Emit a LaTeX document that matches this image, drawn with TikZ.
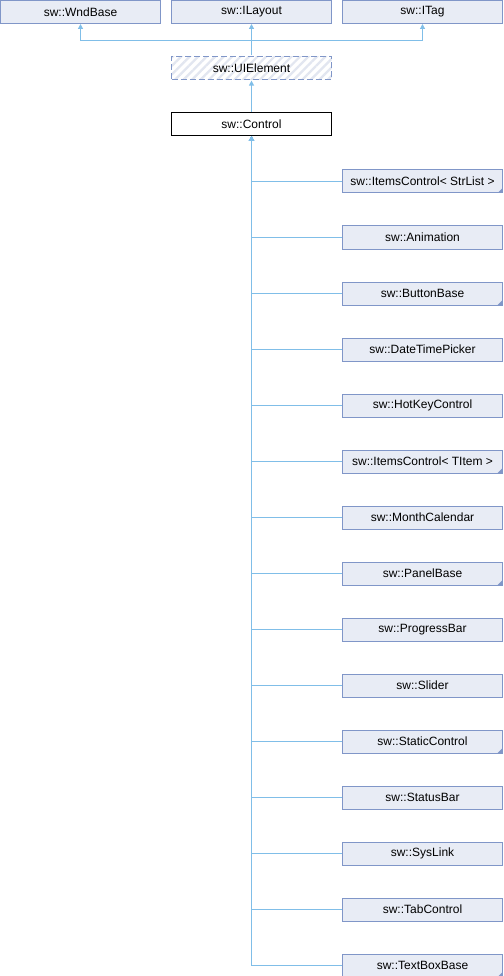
\documentclass[tikz,border=0pt]{standalone}
\usepackage{fontspec}
\setmainfont{Liberation Sans}
\usetikzlibrary{arrows.meta,patterns.meta}

\definecolor{boxfill}{RGB}{232,236,245}
\definecolor{boxline}{RGB}{128,150,200}
\definecolor{edgeblue}{RGB}{128,190,232}
\definecolor{hatchgray}{RGB}{226,230,240}

\tikzset{
    cls/.style={draw=boxline, fill=boxfill, line width=1pt, minimum width=160pt,
        minimum height=23pt, inner sep=0pt, font=\fontsize{12}{14}\selectfont},
    hascorner/.style={path picture={
        \fill[boxline] (path picture bounding box.south east) -- ++(-5pt,0pt) -- ++(5pt,5pt) -- cycle;}},
    inh/.style={draw=edgeblue, line width=1.2pt, -{Triangle[width=5pt,length=5pt]}},
}

\begin{document}
\begin{tikzpicture}[x=1pt,y=-1pt]
    \useasboundingbox (0,0) rectangle (503,976);

    % base classes
        \node[cls] (wnd) at (80.5,12) {sw::WndBase};
        \node[cls] (lay) at (251.5,12) {sw::ILayout};
        \node[cls] (tag) at (422.5,12) {sw::ITag};

    % abstract UIElement and Control
        \node[cls, draw=boxline, dash pattern=on 6pt off 3pt,
              pattern={Lines[angle=45,distance=6pt,line width=2.2pt]}, pattern color=hatchgray,
              preaction={fill=white}] (ui) at (251.5,68) {sw::UIElement};
        \node[cls, draw=black, fill=white] (ctrl) at (251.5,124) {sw::Control};

    % inheritance to the bases
        \coordinate (join) at (251.5,40.5);
        \draw[inh] (ui.north) -- (lay.south);
        \draw[inh] (join) -| (wnd.south);
        \draw[inh] (join) -| (tag.south);
        \draw[inh] (ctrl.north) -- (ui.south);

    % derived classes
    \foreach \name/\txt/\sty [count=\i from 0] in {
        c0/{sw::ItemsControl< StrList >}/hascorner,
        c1/{sw::Animation}/,
        c2/{sw::ButtonBase}/hascorner,
        c3/{sw::DateTimePicker}/,
        c4/{sw::HotKeyControl}/,
        c5/{sw::ItemsControl< TItem >}/hascorner,
        c6/{sw::MonthCalendar}/,
        c7/{sw::PanelBase}/hascorner,
        c8/{sw::ProgressBar}/,
        c9/{sw::Slider}/,
        c10/{sw::StaticControl}/hascorner,
        c11/{sw::StatusBar}/,
        c12/{sw::SysLink}/,
        c13/{sw::TabControl}/,
        c14/{sw::TextBoxBase}/hascorner}
    {
        \node[cls, \sty] (\name) at (422.5,181.5+56*\i) {\txt};
        \draw[inh] (\name.west) -| (ctrl.south);
    }
\end{tikzpicture}
\end{document}
